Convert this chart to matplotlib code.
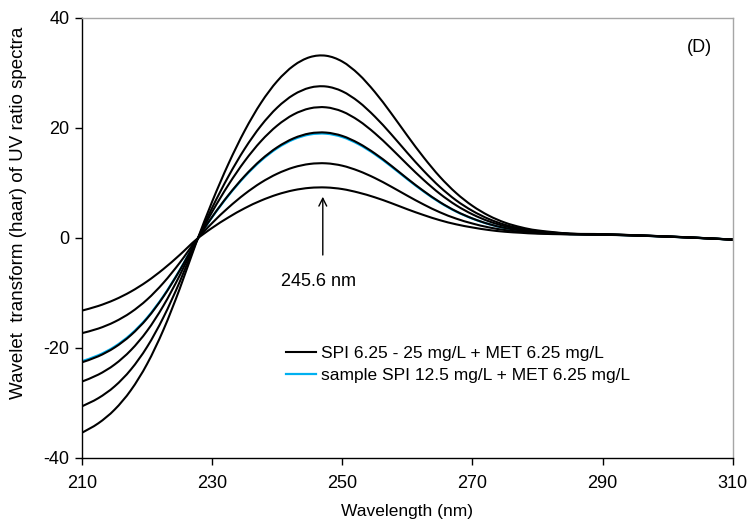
import numpy as np
import matplotlib.pyplot as plt
from matplotlib.path import Path
from matplotlib.patches import PathPatch
from matplotlib.lines import Line2D

plt.rcParams['font.family'] = ['Liberation Sans', 'DejaVu Sans']
plt.rcParams['axes.unicode_minus'] = False

# wavelength grid (nm)
wavelength = [210, 212.5, 215, 217.5, 220, 222.5, 225, 227.5, 230, 232.5,
              235, 237.5, 240, 242.5, 245, 247.5, 250, 252.5, 255, 257.5,
              260, 262.5, 265, 267.5, 270, 272.5, 275, 277.5, 280,
              285, 290, 295, 300, 305, 310]

# SPI 6.25 - 25 mg/L + MET 6.25 mg/L (black curves)
spi_1 = [-35.4, -33.69, -31.21, -27.68, -22.89, -16.71, -9.26, -1.01, 6.63, 13.49,
         19.51, 24.56, 28.52, 31.31, 32.87, 33.13, 32.07, 29.78, 26.54, 22.69,
         18.59, 14.66, 11.12, 8.17, 5.84, 4.07, 2.79, 1.94, 1.38,
         0.80, 0.70, 0.50, 0.28, 0.02, -0.28]
spi_2 = [-30.6, -29.12, -26.98, -23.92, -19.79, -14.44, -8.00, -0.88, 5.51, 11.21,
         16.22, 20.41, 23.71, 26.03, 27.32, 27.54, 26.66, 24.76, 22.07, 18.88,
         15.47, 12.21, 9.28, 6.84, 4.93, 3.46, 2.40, 1.71, 1.24,
         0.76, 0.67, 0.49, 0.27, 0.01, -0.29]
spi_3 = [-26.1, -24.84, -23.01, -20.40, -16.88, -12.32, -6.83, -0.75, 4.76, 9.67,
         13.98, 17.60, 20.44, 22.45, 23.56, 23.75, 22.99, 21.35, 19.04, 16.29,
         13.36, 10.55, 8.03, 5.94, 4.30, 3.04, 2.14, 1.55, 1.15,
         0.74, 0.65, 0.48, 0.26, 0.00, -0.30]
spi_4 = [-22.6, -21.51, -19.92, -17.67, -14.62, -10.66, -5.91, -0.65, 3.84, 7.80,
         11.28, 14.20, 16.49, 18.11, 19.01, 19.16, 18.55, 17.22, 15.37, 13.16,
         10.79, 8.54, 6.52, 4.85, 3.55, 2.54, 1.82, 1.36, 1.03,
         0.71, 0.62, 0.46, 0.25, 0.00, -0.30]
spi_5 = [-17.3, -16.47, -15.25, -13.53, -11.19, -8.16, -4.53, -0.49, 2.72, 5.53,
         7.99, 10.06, 11.68, 12.83, 13.46, 13.57, 13.14, 12.20, 10.90, 9.34,
         7.68, 6.09, 4.67, 3.52, 2.63, 1.93, 1.44, 1.12, 0.89,
         0.68, 0.60, 0.45, 0.24, -0.01, -0.30]
spi_6 = [-13.2, -12.36, -11.23, -9.75, -7.89, -5.65, -3.09, -0.34, 1.84, 3.74,
         5.41, 6.80, 7.90, 8.68, 9.11, 9.18, 8.89, 8.25, 7.39, 6.35,
         5.22, 4.17, 3.23, 2.48, 1.91, 1.45, 1.13, 0.94, 0.78,
         0.65, 0.58, 0.44, 0.23, -0.02, -0.31]

# sample SPI 12.5 mg/L + MET 6.25 mg/L (blue curve)
sample = [-22.4, -21.32, -19.75, -17.51, -14.49, -10.57, -5.86, -0.64, 3.80, 7.72,
          11.16, 14.05, 16.32, 17.92, 18.81, 18.96, 18.35, 17.04, 15.21, 13.02,
          10.68, 8.45, 6.45, 4.80, 3.52, 2.52, 1.81, 1.35, 1.03,
          0.71, 0.62, 0.46, 0.25, 0.00, -0.30]

standards = [spi_1, spi_2, spi_3, spi_4, spi_5, spi_6]
std_label = 'SPI 6.25 - 25 mg/L + MET 6.25 mg/L'
sample_label = 'sample SPI 12.5 mg/L + MET 6.25 mg/L'

peak_wl = 247.0
peak_text = '245.6 nm'

BLACK = 'black'
BLUE = '#00B0F0'


def smooth_line(ax, x, y, color, lw):
    # Excel-style smoothed line: Catmull-Rom segments drawn as cubic Beziers
    pts = np.column_stack([x, y]).astype(float)
    n = len(pts)
    verts = [pts[0]]
    codes = [Path.MOVETO]
    for i in range(n - 1):
        p0 = pts[i - 1] if i > 0 else pts[i]
        p1 = pts[i]
        p2 = pts[i + 1]
        p3 = pts[i + 2] if i + 2 < n else pts[i + 1]
        c1 = p1 + (p2 - p0) / 6.0
        c2 = p2 - (p3 - p1) / 6.0
        verts += [c1, c2, p2]
        codes += [Path.CURVE4] * 3
    patch = PathPatch(Path(verts, codes), fill=False, edgecolor=color,
                      lw=lw, capstyle='round', joinstyle='round')
    ax.add_patch(patch)


fig = plt.figure(figsize=(7.53, 5.28), dpi=100)
ax = fig.add_axes([0.109, 0.1326, 0.864, 0.8334])

# sample first so the black standard sits on top of it
smooth_line(ax, wavelength, sample, BLUE, 1.6)
for y in standards:
    smooth_line(ax, wavelength, y, BLACK, 1.5)

ax.set_xlim(210, 310)
ax.set_ylim(-40, 40)
ax.set_xticks(range(210, 311, 20))
ax.set_yticks(range(-40, 41, 20))
ax.tick_params(direction='out', length=5, width=1, labelsize=13, color='black')
ax.tick_params(axis='x', pad=7)
ax.tick_params(axis='y', pad=4)

for side in ['left', 'bottom']:
    ax.spines[side].set_color('black')
    ax.spines[side].set_linewidth(1)
for side in ['top', 'right']:
    ax.spines[side].set_color('#A6A6A6')
    ax.spines[side].set_linewidth(1)

ax.set_xlabel('Wavelength (nm)', fontsize=12.5, labelpad=9)
ax.set_ylabel('Wavelet  transform (haar) of UV ratio spectra', fontsize=13.5)
ax.yaxis.set_label_coords(-0.084, 0.557)

# arrow to the peak wavelength
ax.annotate('', xy=(peak_wl, 8.0), xytext=(peak_wl, -3.6),
            arrowprops=dict(arrowstyle='->', color='black', lw=1,
                            mutation_scale=14))
ax.text(246.3, -8.0, peak_text, ha='center', va='center', fontsize=13)
ax.text(304.9, 34.6, '(D)', ha='center', va='center', fontsize=13)

handles = [Line2D([], [], color=BLACK, lw=1.5), Line2D([], [], color=BLUE, lw=1.6)]
ax.legend(handles, [std_label, sample_label], frameon=False,
          loc='upper left', bbox_to_anchor=(0.313, 0.2545),
          borderpad=0, borderaxespad=0, handlelength=1.75,
          handletextpad=0.3, labelspacing=0.4, fontsize=12.5)

plt.savefig('out.png', dpi=100)
